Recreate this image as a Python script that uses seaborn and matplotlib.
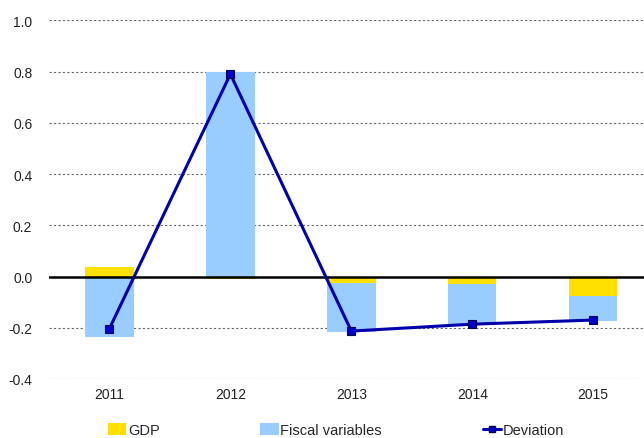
import numpy as np
import pandas as pd
import seaborn as sns
import matplotlib.pyplot as plt
from matplotlib.patches import Patch
from matplotlib.lines import Line2D

sns.set_theme(style="white")
plt.rcParams['font.family'] = ['Liberation Sans', 'DejaVu Sans']

years = ['2011', '2012', '2013', '2014', '2015']
gdp = [0.039, -0.008, -0.026, -0.030, -0.075]
fiscal = [-0.238, 0.800, -0.190, -0.156, -0.100]
deviation = [-0.203, 0.790, -0.213, -0.186, -0.170]

gdp_col = '#FFE000'
fiscal_col = '#99CCFF'
dev_col = '#0000AA'

df = pd.DataFrame({'year': years, 'gdp': gdp, 'fiscal': fiscal, 'deviation': deviation})
# fiscal bars stack under gdp only when both have the same sign
df['fiscal_bottom'] = np.where(np.sign(df['gdp']) == np.sign(df['fiscal']), df['gdp'], 0.0)

fig = plt.figure(figsize=(6.44, 4.39), dpi=100)
ax = fig.add_axes([49 / 644, 59 / 439, 1 - 49 / 644, (380 - 21.3) / 439])

sns.barplot(data=df, x='year', y='gdp', color=gdp_col, width=0.4, saturation=1,
            linewidth=0, ax=ax, zorder=2)
sns.barplot(data=df, x='year', y='fiscal', bottom=df['fiscal_bottom'], color=fiscal_col,
            width=0.4, saturation=1, linewidth=0, ax=ax, zorder=2)

ax.axhline(0, color='black', lw=1.8, zorder=3)

sns.lineplot(data=df, x='year', y='deviation', sort=False, color=dev_col, lw=2.2,
             marker='s', markersize=6, markerfacecolor='#0000CC',
             markeredgecolor='#000055', markeredgewidth=0.8, ax=ax, zorder=4)

ax.set_ylim(-0.4, 1.0)
ax.set_xlim(-0.5, 4.42)
ax.set_yticks(np.arange(-0.4, 1.01, 0.2))
ax.set_yticklabels([f'{v:.1f}' for v in np.arange(-0.4, 1.01, 0.2)])
ax.yaxis.grid(True, color='#666666', lw=0.8, linestyle=(0, (2, 2)))
ax.set_axisbelow(True)
for s in ax.spines.values():
    s.set_visible(False)
ax.tick_params(axis='both', length=0, labelsize=10, colors='#222222')
ax.tick_params(axis='y', pad=12)
ax.tick_params(axis='x', pad=6)
ax.set_xlabel('')
ax.set_ylabel('')

handles = [Patch(color=gdp_col, lw=0), Patch(color=fiscal_col, lw=0),
           Line2D([], [], color=dev_col, lw=2.2, marker='s', markersize=5,
                  markerfacecolor='#0000CC', markeredgecolor='#000055')]
fig.legend(handles, ['GDP', 'Fiscal variables', 'Deviation'], ncol=3, frameon=False,
           loc='center left', bbox_to_anchor=(108 / 644, 8 / 439), borderpad=0,
           borderaxespad=0, fontsize=10.5, handlelength=1.25, handleheight=0.85,
           handletextpad=0.12, columnspacing=6.9)

fig.savefig('out.png', dpi=100)
